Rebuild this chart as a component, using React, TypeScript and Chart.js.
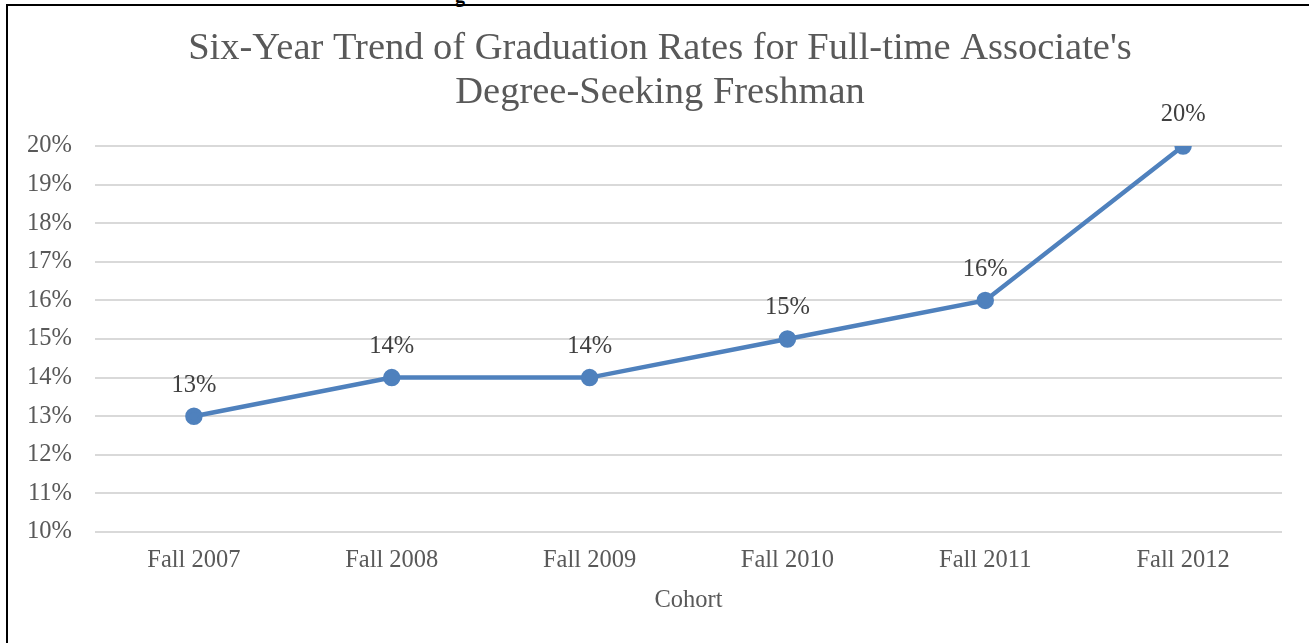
import React, { useEffect, useRef } from "react";
import { Chart, registerables } from "chart.js";

Chart.register(...registerables);

const categories = ["Fall 2007", "Fall 2008", "Fall 2009", "Fall 2010", "Fall 2011", "Fall 2012"];
const rates = [13, 14, 14, 15, 16, 20];
const titleLines = ["Six-Year Trend of Graduation Rates for Full-time Associate's", "Degree-Seeking Freshman"];
const xTitle = "Cohort";
const yMin = 10;
const yMax = 20;

const FONT = "'Liberation Serif', 'DejaVu Serif', serif";
const LABEL_SIZE = 24.5;

const dataLabelPlugin = {
  id: "pointLabels",
  afterLayout(chart: any) {
    const tb = chart.titleBlock;
    if (tb) {
      tb.left = 38;
      tb.right = 1282;
      tb.width = tb.right - tb.left;
    }
  },
  afterDatasetsDraw(chart: any) {
    const ctx = chart.ctx;
    const meta = chart.getDatasetMeta(0);
    ctx.save();
    ctx.font = `${LABEL_SIZE}px ${FONT}`;
    ctx.fillStyle = "#404040";
    ctx.textAlign = "center";
    ctx.textBaseline = "middle";
    meta.data.forEach((pt: any, i: number) => {
      ctx.fillText(rates[i] + "%", pt.x, pt.y - 31);
    });
    ctx.restore();
  },
};

export default function App() {
  const ref = useRef<HTMLCanvasElement>(null);
  useEffect(() => {
    if (!ref.current) return;
    const chart = new Chart(ref.current, {
      type: "line",
      data: {
        labels: categories,
        datasets: [
          {
            data: rates,
            borderColor: "#4F81BD",
            backgroundColor: "#4F81BD",
            borderWidth: 4.5,
            pointRadius: 6.5,
            pointHoverRadius: 6.5,
            pointBackgroundColor: "#4F81BD",
            pointBorderColor: "#4F81BD",
            tension: 0,
          },
        ],
      },
      options: {
        animation: false,
        responsive: false,
        maintainAspectRatio: false,
        layout: { padding: { top: 0, left: 8, right: 27, bottom: 0 } },
        plugins: {
          legend: { display: false },
          tooltip: { enabled: false },
          title: {
            display: true,
            text: titleLines,
            color: "#595959",
            font: { family: FONT, size: 38.5, weight: "normal", lineHeight: 44 / 38.5 },
            padding: { top: 27, bottom: 31 },
          },
        },
        scales: {
          x: {
            offset: true,
            afterFit: (s: any) => {
              s.height = 111;
            },
            grid: { display: false, drawTicks: false },
            border: { display: false },
            ticks: { color: "#595959", font: { family: FONT, size: LABEL_SIZE }, padding: 14 },
            title: {
              display: true,
              text: xTitle,
              color: "#595959",
              font: { family: FONT, size: LABEL_SIZE, lineHeight: 1.2 },
              padding: { top: 10, bottom: 28 },
            },
          },
          y: {
            min: yMin,
            max: yMax,
            afterFit: (s: any) => {
              s.width = 87;
            },
            grid: { color: "#d9d9d9", lineWidth: 2, drawTicks: false },
            border: { display: false },
            ticks: {
              stepSize: 1,
              color: "#595959",
              font: { family: FONT, size: LABEL_SIZE },
              padding: 23,
              callback: (v: any) => v + "%",
            },
          },
        },
      },
      plugins: [dataLabelPlugin],
    });
    return () => chart.destroy();
  }, []);

  return (
    <div style={{ position: "fixed", left: 0, top: 0, width: 1309, height: 643, overflow: "hidden", background: "#fff" }}>
      <span
        style={{
          position: "absolute",
          left: 455,
          top: -16,
          fontFamily: FONT,
          fontWeight: "bold",
          fontSize: 20,
          color: "#000",
        }}
      >
        g
      </span>
      <div
        style={{
          position: "absolute",
          left: 6,
          top: 4,
          width: 1400,
          height: 800,
          borderLeft: "2px solid #000",
          borderTop: "2px solid #000",
        }}
      />
      <canvas ref={ref} width={1309} height={643} style={{ position: "absolute", left: 0, top: 0, width: 1309, height: 643 }} />
    </div>
  );
}
